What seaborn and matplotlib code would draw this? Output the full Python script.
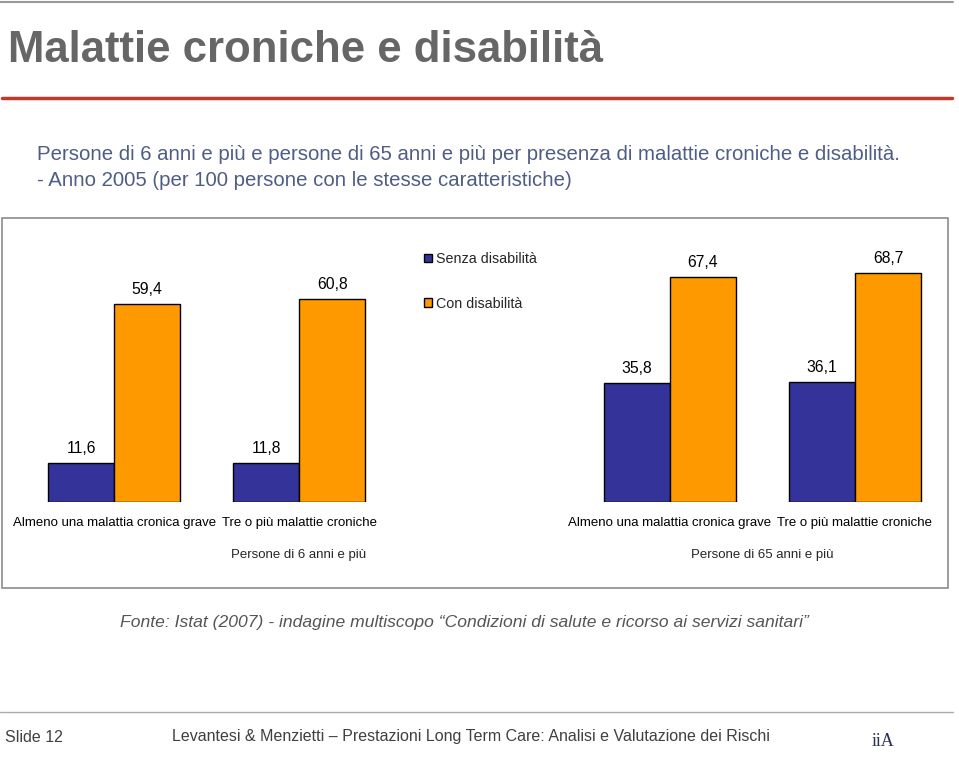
import pandas as pd
import numpy as np
import matplotlib
matplotlib.use('Agg')
import matplotlib.pyplot as plt
from matplotlib.patches import Rectangle
from matplotlib.lines import Line2D
import seaborn as sns

# data
slots = ['A6', 'T6', 'gap', 'A65', 'T65']
slot_labels = ['Almeno una malattia cronica grave', 'Tre o più malattie croniche', '',
               'Almeno una malattia cronica grave', 'Tre o più malattie croniche']
series = ['Senza disabilità', 'Con disabilità']
senza = [11.6, 11.8, 35.8, 36.1]
con = [59.4, 60.8, 67.4, 68.7]
bar_slots = ['A6', 'T6', 'A65', 'T65']
colors = ['#333399', '#FF9900']

df = pd.DataFrame({
    'slot': bar_slots * 2,
    'serie': [series[0]] * 4 + [series[1]] * 4,
    'valore': senza + con,
})

sns.set_theme(style='white')
plt.rcParams['font.family'] = ['Liberation Sans', 'DejaVu Sans']

W, H = 959, 765
fig = plt.figure(figsize=(W / 100, H / 100), dpi=100)

def fx(px):
    return px / W

def fy(py):
    return 1 - py / H

# slide decorations
fig.add_artist(Line2D([fx(0), fx(953)], [fy(1.5), fy(1.5)], color='#999999', lw=1.5))
fig.text(fx(8), fy(50), 'Malattie croniche e disabilità', fontsize=31.5, fontweight='bold',
         color='#666666', va='center', ha='left')
fig.add_artist(Line2D([fx(2), fx(952)], [fy(98), fy(98)], color='#C0392B', lw=2.5))
fig.text(fx(37), fy(155), 'Persone di 6 anni e più e persone di 65 anni e più per presenza di malattie croniche e disabilità.',
         fontsize=14.7, color='#4F5D85', va='center', ha='left')
fig.text(fx(37), fy(181), '- Anno 2005 (per 100 persone con le stesse caratteristiche)',
         fontsize=14.7, color='#4F5D85', va='center', ha='left')

# chart box
fig.add_artist(Rectangle((fx(2), fy(588)), fx(946), 370 / H, fill=False,
                         edgecolor='#8C8C8C', lw=1.2, transform=fig.transFigure))

# bars
ax = fig.add_axes([fx(21.5), fy(502), fx(926), 250 / H])
sns.barplot(data=df, x='slot', y='valore', hue='serie', order=slots, hue_order=series,
            palette=colors, width=0.714, edgecolor='black', linewidth=1, saturation=1,
            legend=False, ax=ax)
ax.set_ylim(0, 75)
ax.set_xlim(-0.5, 4.5)
for c in ax.containers:
    ax.bar_label(c, labels=[f'{v:.1f}'.replace('.', ',') for v in c.datavalues],
                 padding=5, fontsize=11.3, color='black')
ax.set_xticks(range(len(slots)))
ax.set_xticklabels(slot_labels, fontsize=9.5, color='black')
ax.tick_params(axis='x', length=0, pad=11)
ax.set_yticks([])
ax.set_xlabel('')
ax.set_ylabel('')
for s in ax.spines.values():
    s.set_visible(False)
ax.patch.set_alpha(0)

fig.text(fx(299), fy(555), 'Persone di 6 anni e più', fontsize=9.5, ha='center', va='center')
fig.text(fx(762), fy(555), 'Persone di 65 anni e più', fontsize=9.5, ha='center', va='center')

# legend
handles = [Rectangle((0, 0), 1, 1, facecolor=c, edgecolor='black', lw=1) for c in colors]
fig.legend(handles, series, loc='upper left', bbox_to_anchor=(fx(424), fy(252)),
           frameon=False, fontsize=10.3, handlelength=0.55, handleheight=0.55,
           handletextpad=0.3, labelspacing=2.15, borderpad=0, borderaxespad=0)

# source
fig.text(fx(464), fy(622), 'Fonte: Istat (2007) - indagine multiscopo \u201cCondizioni di salute e ricorso ai servizi sanitari\u201d',
         fontsize=12.6, style='italic', color='#555555', ha='center', va='center')

# footer
fig.add_artist(Line2D([fx(0), fx(953)], [fy(712), fy(712)], color='#AAAAAA', lw=1))
fig.text(fx(5), fy(737), 'Slide 12', fontsize=11.5, color='#404040', va='center', ha='left')
fig.text(fx(172), fy(737), 'Levantesi & Menzietti \u2013 Prestazioni Long Term Care: Analisi e Valutazione dei Rischi',
         fontsize=11.5, color='#404040', va='center', ha='left')
fig.text(fx(872), fy(742), 'iiA', fontsize=13, color='#2B2F5A', va='center', ha='left',
         family=['Liberation Serif', 'DejaVu Serif'])

fig.savefig('out.png', dpi=100)
